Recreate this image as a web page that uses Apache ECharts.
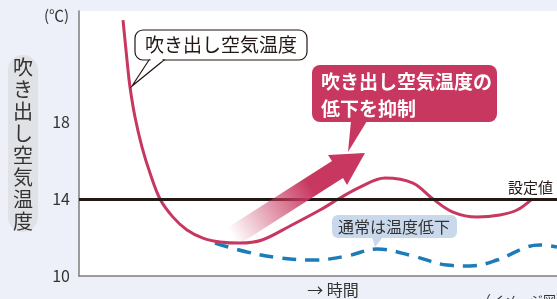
<!DOCTYPE html>
<html lang="ja">
<head>
<meta charset="UTF-8">
<title>吹き出し空気温度</title>
<script src="https://cdn.jsdelivr.net/npm/echarts@6/dist/echarts.min.js"></script>
<style>
  html, body { margin: 0; padding: 0; background: #EDF0F8; }
  #chart { width: 557px; height: 299px; }
</style>
</head>
<body>
<div id="chart"></div>
<script>
// 時間軸（任意単位）と温度(℃)
var redX  = [44, 48, 51, 56, 63, 71, 81, 94, 108, 124, 141, 161, 183, 211, 241, 261, 281, 306, 334, 354, 374, 398, 421, 438, 453];
var redY  = [23.3, 21.22, 19.82, 18.26, 16.7, 15.35, 14.0, 13.06, 12.39, 11.97, 11.77, 11.71, 11.87, 12.6, 13.43, 14.05, 14.62, 15.09, 14.83, 14.0, 13.32, 13.06, 13.17, 13.43, 14.0];
var blueX = [136, 168, 201, 234, 268, 298, 334, 368, 391, 418, 448, 461, 478];
var blueY = [11.71, 11.25, 10.94, 10.83, 11.04, 11.4, 11.04, 10.57, 10.52, 10.83, 11.51, 11.61, 11.51];
var setValue = 14;
var yTicks = [10, 14, 18];

var FONT = '"Noto Sans CJK JP", "Noto Sans", sans-serif';
var RED = '#C8375F';
var BLUE = '#1B7DB8';

function pairs(xs, ys) {
  var out = [];
  for (var i = 0; i < xs.length; i++) out.push([xs[i], ys[i]]);
  return out;
}

var chart = echarts.init(document.getElementById('chart'));

var option = {
  backgroundColor: '#EDF0F8',
  animation: false,
  grid: {
    left: 79, top: 11, right: 0, bottom: 23,
    show: true, backgroundColor: '#fff', borderWidth: 0
  },
  xAxis: {
    type: 'value', min: 0, max: 478,
    axisLine: { show: true, lineStyle: { color: '#7d7d7d', width: 1.5 } },
    axisTick: { show: false }, axisLabel: { show: false }, splitLine: { show: false }
  },
  yAxis: {
    type: 'value', min: 10, max: 23.77, interval: 4,
    axisLine: { show: true, lineStyle: { color: '#7d7d7d', width: 1.5 } },
    axisTick: { show: false }, splitLine: { show: false },
    axisLabel: {
      margin: 9, fontSize: 16, color: '#333', fontFamily: FONT,
      formatter: function (v) { return yTicks.indexOf(v) >= 0 ? String(v) : ''; }
    }
  },
  series: [
    {
      type: 'line', data: pairs(blueX, blueY), smooth: 0.4, symbol: 'none',
      lineStyle: { color: BLUE, width: 3.5, type: [14, 9] }, z: 2
    },
    {
      type: 'line', data: pairs(redX, redY), smooth: 0.35, symbol: 'none',
      lineStyle: { color: RED, width: 3 }, z: 3,
      markLine: {
        silent: true, symbol: 'none',
        lineStyle: { color: '#231815', width: 3, type: 'solid' },
        label: {
          position: 'insideEndTop', formatter: '設定値', color: '#231815',
          fontSize: 15, fontFamily: FONT, distance: [4, 4]
        },
        data: [{ yAxis: setValue }]
      }
    }
  ],
  graphic: [
    // (℃)
    { type: 'text', left: 44, top: 8, style: { text: '(℃)', fontSize: 15, fill: '#333', fontFamily: FONT } },
    // 縦軸タイトル
    { type: 'rect', shape: { x: 8, y: 55, width: 30, height: 177, r: 15 }, style: { fill: '#E1E2E5' } },
    { type: 'text', x: 23, y: 144,
      style: { text: '吹\nき\n出\nし\n空\n気\n温\n度', fontSize: 20, lineHeight: 22, fill: '#333',
        fontFamily: FONT, align: 'center', verticalAlign: 'middle' } },
    // 時間
    { type: 'text', x: 333, y: 290,
      style: { text: '→ 時間', fontSize: 16, fill: '#333', fontFamily: FONT, align: 'center', verticalAlign: 'middle' } },
    { type: 'text', x: 478, y: 294,
      style: { text: '（イメージ図）', fontSize: 13, fill: '#333', fontFamily: FONT } },
    // 吹き出し空気温度 callout
    { type: 'rect', shape: { x: 135, y: 30, width: 172, height: 30, r: 8 },
      style: { fill: '#fff', stroke: '#231815', lineWidth: 1.2 }, z: 10 },
    { type: 'polygon', shape: { points: [[149, 60], [164, 60], [132, 86]] },
      style: { fill: '#fff', stroke: '#231815', lineWidth: 1.2 }, z: 10 },
    { type: 'line', shape: { x1: 150.5, y1: 60, x2: 162.5, y2: 60 },
      style: { stroke: '#fff', lineWidth: 2.5 }, z: 11 },
    { type: 'text', x: 221, y: 45, z: 12,
      style: { text: '吹き出し空気温度', fontSize: 19, fill: '#231815', fontFamily: FONT,
        align: 'center', verticalAlign: 'middle' } },
    // 抑制 callout
    { type: 'rect', shape: { x: 312, y: 65, width: 185, height: 57, r: 8 }, style: { fill: RED }, z: 10 },
    { type: 'polygon', shape: { points: [[351, 121], [367, 121], [348, 152]] }, style: { fill: RED }, z: 10 },
    { type: 'text', x: 321, y: 68, z: 12,
      style: { text: '吹き出し空気温度の\n低下を抑制', fontSize: 19, lineHeight: 27, fill: '#fff',
        fontWeight: 'bold', fontFamily: FONT, verticalAlign: 'top' } },
    // 矢印
    { type: 'polygon', z: 9,
      shape: { points: [[227, 228], [332, 161], [328, 155], [365, 153], [347, 185], [343, 178], [238, 245]] },
      style: {
        fill: new echarts.graphic.LinearGradient(232, 236, 345, 165, [
          { offset: 0, color: 'rgba(200,55,95,0)' },
          { offset: 0.7, color: 'rgba(200,55,95,1)' },
          { offset: 1, color: 'rgba(200,55,95,1)' }
        ], true)
      } },
    // 通常は温度低下 callout
    { type: 'rect', shape: { x: 332, y: 215, width: 125, height: 23, r: 6 }, style: { fill: '#C9D8EB' }, z: 10 },
    { type: 'polygon', shape: { points: [[372, 237], [383, 237], [375, 247]] }, style: { fill: '#C9D8EB' }, z: 10 },
    { type: 'text', x: 394, y: 227, z: 12,
      style: { text: '通常は温度低下', fontSize: 16, fill: '#333', fontFamily: FONT,
        align: 'center', verticalAlign: 'middle' } }
  ]
};

chart.setOption(option);
</script>
</body>
</html>
